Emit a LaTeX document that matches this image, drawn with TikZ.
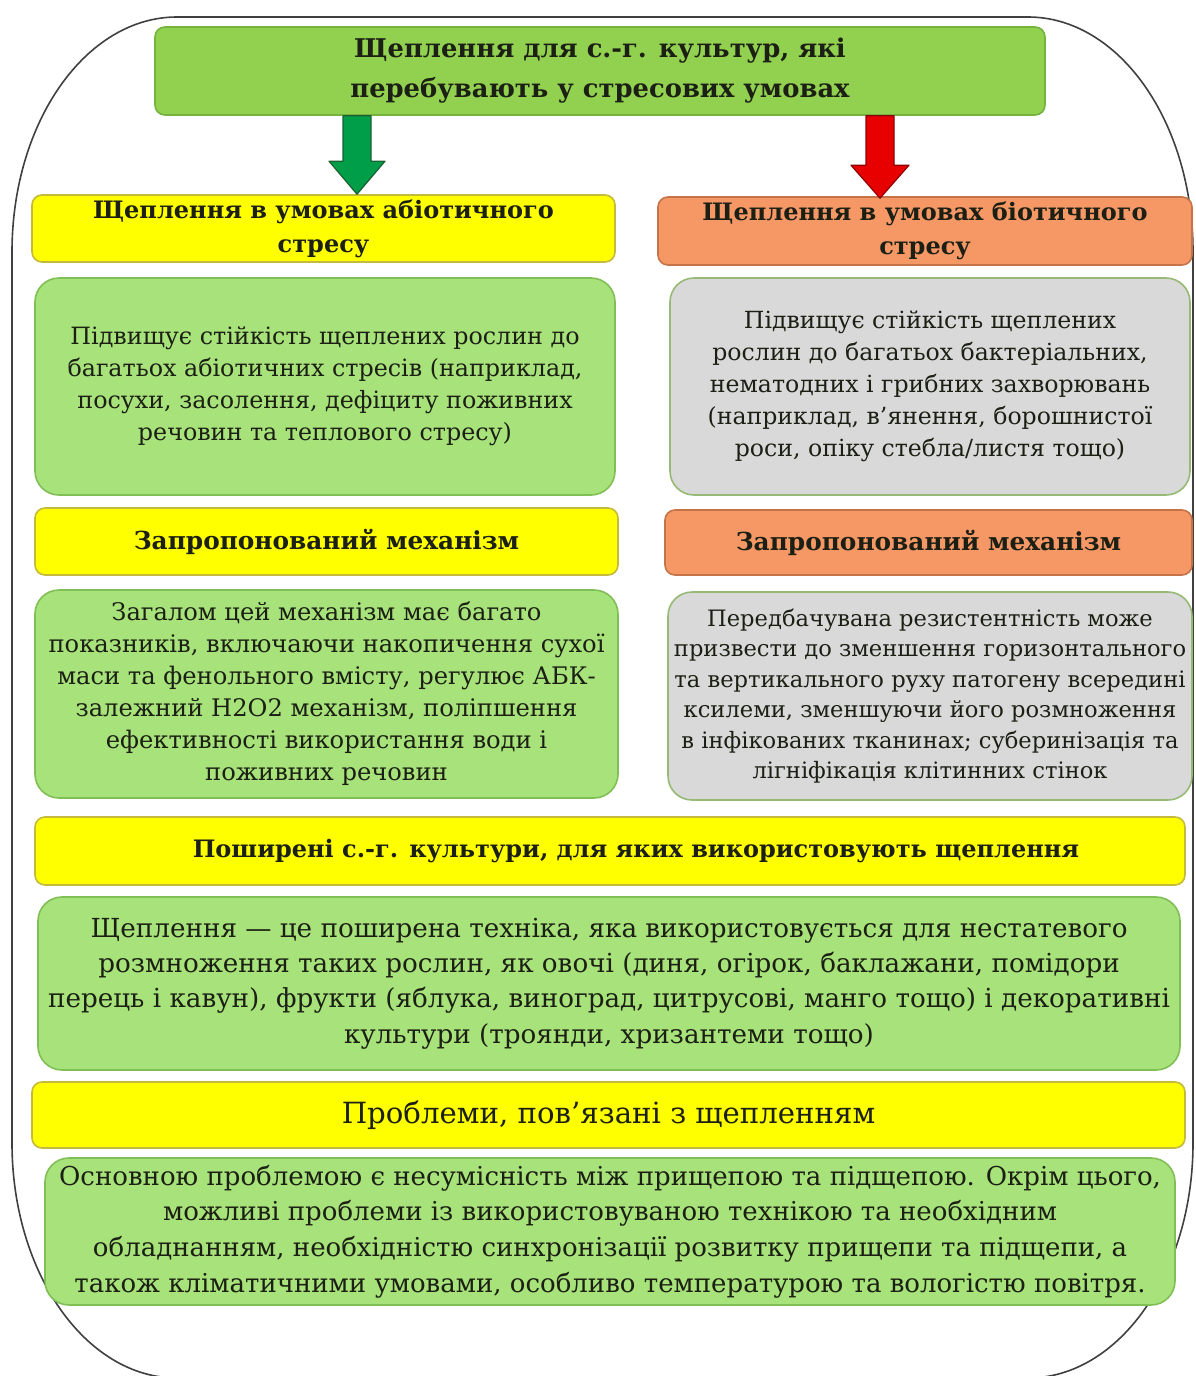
\documentclass[tikz,border=0pt]{standalone}
\usepackage{fontspec}
\setmainfont{DejaVu Serif}
\usetikzlibrary{calc,positioning}
\definecolor{titlegreen}{RGB}{146,208,80}
\definecolor{titlegreenb}{RGB}{118,178,62}
\definecolor{bodygreen}{RGB}{168,226,122}
\definecolor{bodygreenb}{RGB}{128,190,86}
\definecolor{headyellow}{RGB}{255,255,0}
\definecolor{headyellowb}{RGB}{196,186,60}
\definecolor{headorange}{RGB}{246,152,102}
\definecolor{headorangeb}{RGB}{196,116,72}
\definecolor{bodygray}{RGB}{217,217,217}
\definecolor{bodygrayb}{RGB}{150,186,118}
\definecolor{arrowgreen}{RGB}{0,158,72}
\definecolor{arrowgreenb}{RGB}{26,96,48}
\definecolor{arrowred}{RGB}{232,0,0}
\definecolor{arrowredb}{RGB}{140,0,0}
\definecolor{inkdark}{RGB}{28,32,20}
\tikzset{
    % basic box
    box/.style={
        rounded corners=5pt, line width=0.8pt, align=center,
        text=inkdark, inner sep=0pt
    },
    % headers
    titlebox/.style={box, fill=titlegreen, draw=titlegreenb,
        font=\fontsize{12.9}{20}\selectfont\bfseries},
    yellowhead/.style={box, fill=headyellow, draw=headyellowb,
        font=\fontsize{12}{17}\selectfont\bfseries},
    orangehead/.style={box, fill=headorange, draw=headorangeb,
        font=\fontsize{12}{17}\selectfont\bfseries},
    mechfont/.style={font=\fontsize{12.4}{17}\selectfont\bfseries},
    % text bodies
    greenbody/.style={box, rounded corners=12pt, fill=bodygreen, draw=bodygreenb,
        font=\fontsize{11.9}{16}\selectfont},
    graybody/.style={box, rounded corners=12pt, fill=bodygray, draw=bodygrayb,
        font=\fontsize{11.8}{16}\selectfont},
    widebody/.style={greenbody, font=\fontsize{13.1}{17.7}\selectfont},
    % block arrows
    greenarrow/.style={fill=arrowgreen, draw=arrowgreenb, line width=0.6pt, line join=round},
    redarrow/.style={fill=arrowred, draw=arrowredb, line width=0.6pt, line join=round},
    frame/.style={draw=black!75, line width=0.8pt}
}
\begin{document}
\begin{tikzpicture}[x=0.5pt,y=-0.5pt]
  \useasboundingbox (0,0) rectangle (1195,1376);

  % outer frame
  \draw[frame] (177,17) -- (1028,17)
     .. controls (1119,17) and (1193,122) .. (1193,252) -- (1193,1143)
     .. controls (1193,1273) and (1119,1378) .. (1028,1378) -- (177,1378)
     .. controls (86,1378) and (12,1273) .. (12,1143) -- (12,252)
     .. controls (12,122) and (86,17) .. cycle;

  % title
  \node[titlebox, minimum width=445pt, minimum height=44pt] (title) at (600,71)
     {Щеплення для с.-г. культур, які\\перебувають у стресових умовах};

  % two columns
  \node[yellowhead, minimum width=291.5pt, minimum height=33.5pt] (abiohead) at (323.5,228.5)
     {Щеплення в умовах абіотичного\\стресу};
  \node[orangehead, minimum width=267pt, minimum height=34pt] (biohead) at (925,231)
     {Щеплення в умовах біотичного\\стресу};
  \node[greenbody, minimum width=290pt, minimum height=108.5pt] (abiobody) at (325,386.5)
     {Підвищує стійкість щеплених рослин до\\багатьох абіотичних стресів (наприклад,\\посухи, засолення, дефіциту поживних\\речовин та теплового стресу)};
  \node[graybody, minimum width=260pt, minimum height=108.5pt] (biobody) at (930,386.5)
     {Підвищує стійкість щеплених\\рослин до багатьох бактеріальних,\\нематодних і грибних захворювань\\(наприклад, в’янення, борошнистої\\роси, опіку стебла/листя тощо)};
  \node[yellowhead, mechfont, minimum width=291.5pt, minimum height=33.5pt] (abiomech) at (326.5,541.5)
     {Запропонований механізм};
  \node[orangehead, mechfont, minimum width=263.5pt, minimum height=32.5pt] (biomech) at (928.5,542.5)
     {Запропонований механізм};
  \node[greenbody, font=\fontsize{12.1}{16}\selectfont, minimum width=291.5pt, minimum height=104pt] (abiomechbody) at (326.5,694)
     {Загалом цей механізм має багато\\показників, включаючи накопичення сухої\\маси та фенольного вмісту, регулює АБК-\\залежний H2O2 механізм, поліпшення\\ефективності використання води і\\поживних речовин};
  \node[graybody, font=\fontsize{11.3}{15.2}\selectfont, minimum width=262pt, minimum height=104pt] (biomechbody) at (930,696)
     {Передбачувана резистентність може\\призвести до зменшення горизонтального\\та вертикального руху патогену всередині\\ксилеми, зменшуючи його розмноження\\в інфікованих тканинах; суберинізація та\\лігніфікація клітинних стінок};

  % full width rows
  \node[yellowhead, minimum width=575pt, minimum height=34pt] (cropshead) at (610,851)
     {\hspace*{26pt}Поширені с.-г. культури, для яких використовують щеплення};
  \node[widebody, minimum width=571pt, minimum height=86.5pt] (cropsbody) at (609,983.5)
     {Щеплення — це поширена техніка, яка використовується для нестатевого\\розмноження таких рослин, як овочі (диня, огірок, баклажани, помідори\\перець і кавун), фрукти (яблука, виноград, цитрусові, манго тощо) і декоративні\\культури (троянди, хризантеми тощо)};
  \node[yellowhead, font=\fontsize{14.6}{18}\selectfont, minimum width=576.5pt, minimum height=33pt] (probhead) at (608.5,1115)
     {Проблеми, пов’язані з щепленням};
  \node[widebody, font=\fontsize{13}{17.8}\selectfont, minimum width=565pt, minimum height=73.5pt] (probbody) at (610,1231.5)
     {Основною проблемою є несумісність між прищепою та підщепою. Окрім цього,\\можливі проблеми із використовуваною технікою та необхідним\\обладнанням, необхідністю синхронізації розвитку прищепи та підщепи, а\\також кліматичними умовами, особливо температурою та вологістю повітря.};

  % block arrows
  \coordinate (gx) at (357,0);
  \coordinate (rx) at (880,0);
  \coordinate (gs) at (title.south -| gx);
  \coordinate (gt) at (abiohead.north -| gx);
  \coordinate (rs) at (title.south -| rx);
  \coordinate (rt) at ($(biohead.north -| rx)+(0,2)$);
  \draw[greenarrow] ($(gs)+(-14,0)$) -- ($(gt)+(-14,-33)$) -- ($(gt)+(-28,-33)$) -- (gt)
     -- ($(gt)+(28,-33)$) -- ($(gt)+(14,-33)$) -- ($(gs)+(14,0)$) -- cycle;
  \draw[redarrow] ($(rs)+(-14,0)$) -- ($(rt)+(-14,-33)$) -- ($(rt)+(-29,-33)$) -- (rt)
     -- ($(rt)+(29,-33)$) -- ($(rt)+(14,-33)$) -- ($(rs)+(14,0)$) -- cycle;
\end{tikzpicture}
\end{document}
